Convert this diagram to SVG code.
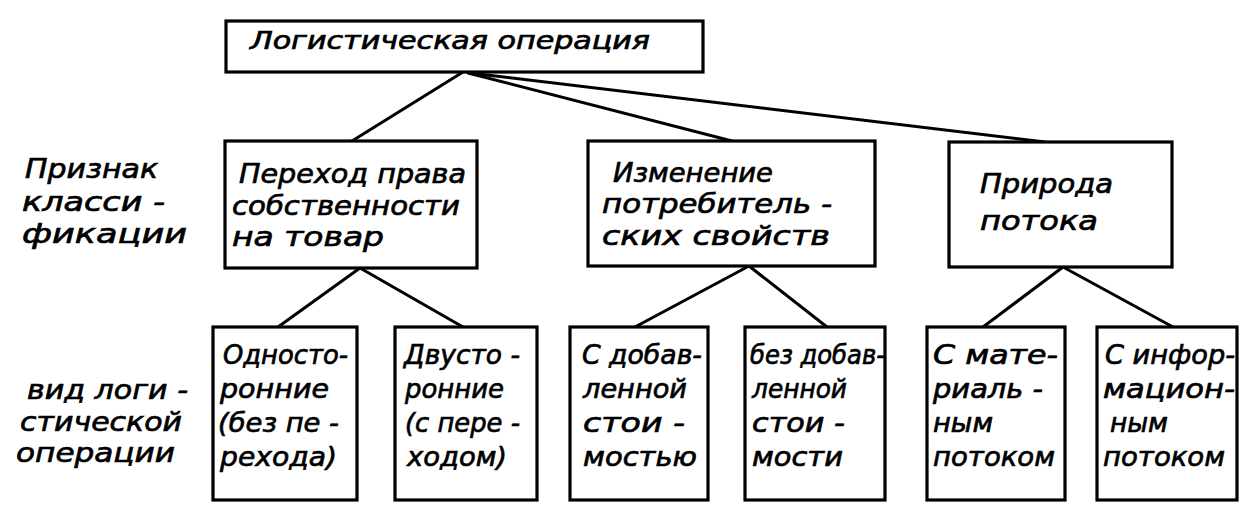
<svg xmlns="http://www.w3.org/2000/svg" width="1252" height="518" viewBox="0 0 1252 518">
<style>
.box{fill:#fff;stroke:#000;stroke-width:3.2}
.ln{stroke:#000;stroke-width:3;fill:none;stroke-linecap:round}
text{font-family:"DejaVu Sans","Noto Sans",sans-serif;font-style:italic;font-weight:normal;fill:#000;stroke:#000;stroke-width:0.7;font-size:27px}
.t{font-size:24px}
</style>
<rect width="1252" height="518" fill="#fff"/>
<g id="connectors">
<line class="ln" x1="463" y1="72" x2="352" y2="141"/>
<line class="ln" x1="468" y1="73" x2="732" y2="141"/>
<line class="ln" x1="470" y1="73" x2="1045" y2="142"/>
<line class="ln" x1="360" y1="268" x2="278" y2="327"/>
<line class="ln" x1="360" y1="268" x2="463" y2="327"/>
<line class="ln" x1="749" y1="266" x2="635" y2="327"/>
<line class="ln" x1="749" y1="266" x2="827" y2="327"/>
<line class="ln" x1="1063" y1="267" x2="983" y2="327"/>
<line class="ln" x1="1063" y1="267" x2="1173" y2="327"/>
</g>
<g id="root">
<rect class="box" x="226" y="21" width="477" height="51"/>
<text class="t" x="250" y="49" textLength="400" lengthAdjust="spacingAndGlyphs">Логистическая операция</text>
</g>
<g id="label-priznak">
<text x="25" y="178" textLength="133" lengthAdjust="spacingAndGlyphs">Признак</text>
<text x="22" y="211" textLength="143" lengthAdjust="spacingAndGlyphs">класси -</text>
<text x="22" y="243" textLength="165" lengthAdjust="spacingAndGlyphs">фикации</text>
</g>
<g id="label-vid">
<text x="27" y="399" textLength="161" lengthAdjust="spacingAndGlyphs">вид логи -</text>
<text x="20" y="431" textLength="162" lengthAdjust="spacingAndGlyphs">стической</text>
<text x="16" y="462" textLength="159" lengthAdjust="spacingAndGlyphs">операции</text>
</g>
<g id="n-perehod">
<rect class="box" x="225" y="141" width="252" height="127"/>
<text x="239" y="183" textLength="227" lengthAdjust="spacingAndGlyphs">Переход права</text>
<text x="232" y="215" textLength="228" lengthAdjust="spacingAndGlyphs">собственности</text>
<text x="232" y="246" textLength="152" lengthAdjust="spacingAndGlyphs">на товар</text>
</g>
<g id="n-izmenenie">
<rect class="box" x="588" y="141" width="287" height="125"/>
<text x="613" y="182" textLength="160" lengthAdjust="spacingAndGlyphs">Изменение</text>
<text x="602" y="213" textLength="230" lengthAdjust="spacingAndGlyphs">потребитель -</text>
<text x="602" y="245" textLength="228" lengthAdjust="spacingAndGlyphs">ских свойств</text>
</g>
<g id="n-priroda">
<rect class="box" x="949" y="142" width="223" height="125"/>
<text x="980" y="193" textLength="133" lengthAdjust="spacingAndGlyphs">Природа</text>
<text x="980" y="230" textLength="118" lengthAdjust="spacingAndGlyphs">потока</text>
</g>
<g id="n-odno">
<rect class="box" x="213" y="327" width="144" height="173"/>
<text x="223" y="364" textLength="125" lengthAdjust="spacingAndGlyphs">Односто-</text>
<text x="220" y="398" textLength="109" lengthAdjust="spacingAndGlyphs">ронние</text>
<text x="218" y="432" textLength="121" lengthAdjust="spacingAndGlyphs">(без пе -</text>
<text x="220" y="466" textLength="117" lengthAdjust="spacingAndGlyphs">рехода)</text>
</g>
<g id="n-dvu">
<rect class="box" x="395" y="327" width="142" height="173"/>
<text x="404" y="364" textLength="116" lengthAdjust="spacingAndGlyphs">Двусто -</text>
<text x="405" y="398" textLength="99" lengthAdjust="spacingAndGlyphs">ронние</text>
<text x="405" y="432" textLength="115" lengthAdjust="spacingAndGlyphs">(с пере -</text>
<text x="407" y="466" textLength="100" lengthAdjust="spacingAndGlyphs">ходом)</text>
</g>
<g id="n-s-dobav">
<rect class="box" x="570" y="327" width="138" height="173"/>
<text x="582" y="364" textLength="120" lengthAdjust="spacingAndGlyphs">С добав-</text>
<text x="583" y="398" textLength="104" lengthAdjust="spacingAndGlyphs">ленной</text>
<text x="583" y="432" textLength="102" lengthAdjust="spacingAndGlyphs">стои -</text>
<text x="583" y="466" textLength="114" lengthAdjust="spacingAndGlyphs">мостью</text>
</g>
<g id="n-bez-dobav">
<rect class="box" x="745" y="327" width="140" height="173"/>
<text x="750" y="364" textLength="135" lengthAdjust="spacingAndGlyphs">без добав-</text>
<text x="752" y="398" textLength="95" lengthAdjust="spacingAndGlyphs">ленной</text>
<text x="752" y="432" textLength="93" lengthAdjust="spacingAndGlyphs">стои -</text>
<text x="752" y="466" textLength="91" lengthAdjust="spacingAndGlyphs">мости</text>
</g>
<g id="n-material">
<rect class="box" x="927" y="327" width="138" height="173"/>
<text x="933" y="364" textLength="125" lengthAdjust="spacingAndGlyphs">С мате-</text>
<text x="933" y="398" textLength="110" lengthAdjust="spacingAndGlyphs">риаль -</text>
<text x="933" y="432" textLength="60" lengthAdjust="spacingAndGlyphs">ным</text>
<text x="933" y="466" textLength="122" lengthAdjust="spacingAndGlyphs">потоком</text>
</g>
<g id="n-inform">
<rect class="box" x="1097" y="327" width="140" height="173"/>
<text x="1105" y="364" textLength="130" lengthAdjust="spacingAndGlyphs">С инфор-</text>
<text x="1103" y="398" textLength="132" lengthAdjust="spacingAndGlyphs">мацион-</text>
<text x="1110" y="432" textLength="58" lengthAdjust="spacingAndGlyphs">ным</text>
<text x="1103" y="466" textLength="122" lengthAdjust="spacingAndGlyphs">потоком</text>
</g>
</svg>
